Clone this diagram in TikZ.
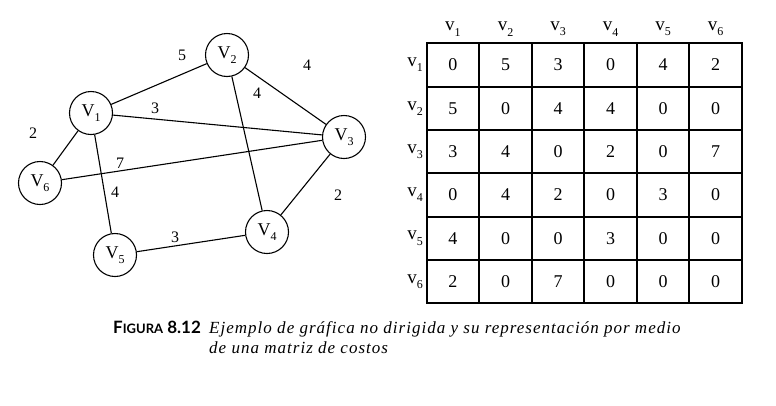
\documentclass[tikz,border=0pt]{standalone}
\usepackage{fontspec}
\setmainfont{Liberation Serif}
\newfontfamily\capsans{Lato}
\newfontfamily\capit[LetterSpace=6]{Liberation Serif Italic}
\newcommand\vsub[2]{#1\raisebox{-0.28em}{\fontsize{12}{12}\selectfont #2}}
\begin{document}
\begin{tikzpicture}[x=1pt,y=-1pt,
  vert/.style={circle,draw,line width=1.1pt,minimum size=43pt,inner sep=0pt,font=\fontsize{18}{18}\selectfont},
  edge/.style={line width=1.1pt},
  wlab/.style={font=\fontsize{16}{16}\selectfont,inner sep=0pt},
  cell/.style={draw,line width=2pt,minimum width=52.55pt,minimum height=43.33pt,inner sep=0pt,font=\fontsize{18}{18}\selectfont},
  hlab/.style={font=\fontsize{19}{19}\selectfont,inner sep=0pt},
  capital/.style={inner sep=0pt,anchor=base west},
  captext/.style={inner sep=0pt,anchor=base west,font=\capit\fontsize{17}{17}\selectfont}]
\useasboundingbox (0,0) rectangle (776,405);
% graph
\node[vert] (v1) at (91,113) {\vsub{V}{1}};
\node[vert] (v2) at (227,55) {\vsub{V}{2}};
\node[vert] (v3) at (344,137) {\vsub{V}{3}};
\node[vert] (v4) at (267,232) {\vsub{V}{4}};
\node[vert] (v5) at (115,255) {\vsub{V}{5}};
\node[vert] (v6) at (40,183) {\vsub{V}{6}};
\draw[edge] (v1) -- (v2);
\draw[edge] (v2) -- (v3);
\draw[edge] (v2) -- (v4);
\draw[edge] (v1) -- (v3);
\draw[edge] (v1) -- (v6);
\draw[edge] (v6) -- (v3);
\draw[edge] (v1) -- (v5);
\draw[edge] (v3) -- (v4);
\draw[edge] (v5) -- (v4);
\node[wlab] (w12) at (182,55) {5};
\node[wlab] (w23) at (307,65) {4};
\node[wlab] (w24) at (257,93) {4};
\node[wlab] (w13) at (155,108) {3};
\node[wlab] (w16) at (33,133) {2};
\node[wlab] (w63) at (120,163) {7};
\node[wlab] (w15) at (115,192) {4};
\node[wlab] (w34) at (338,195) {2};
\node[wlab] (w54) at (175,237) {3};
% matrix
\foreach \row [count=\i] in {{0,5,3,0,4,2},{5,0,4,4,0,0},{3,4,0,2,0,7},{0,4,2,0,3,0},{4,0,0,3,0,0},{2,0,7,0,0,0}}{
  \foreach \val [count=\j] in \row {
    \node[cell] (m-\i-\j) at ({426.7+52.55*(\j-0.5)},{43.3+43.33*(\i-0.5)}) {\val};
  }
}
\foreach \j in {1,...,6}{
  \node[hlab] (h-\j) at ({426.7+52.55*(\j-0.5)},29) {\vsub{v}{\j}};
  \node[hlab,anchor=east] (r-\j) at (423,{43.3+43.33*(\j-0.5)}) {\vsub{v}{\j}};
}
% caption
\node[capital] (figlab) at (113,333) {\capsans\bfseries\fontsize{17}{17}\selectfont F{\fontsize{13}{13}\selectfont IGURA} 8.12};
\node[captext] (cap1) at (209,333) {Ejemplo de gráfica no dirigida y su representación por medio};
\node[captext] (cap2) at (209,353) {de una matriz de costos};
\end{tikzpicture}
\end{document}
